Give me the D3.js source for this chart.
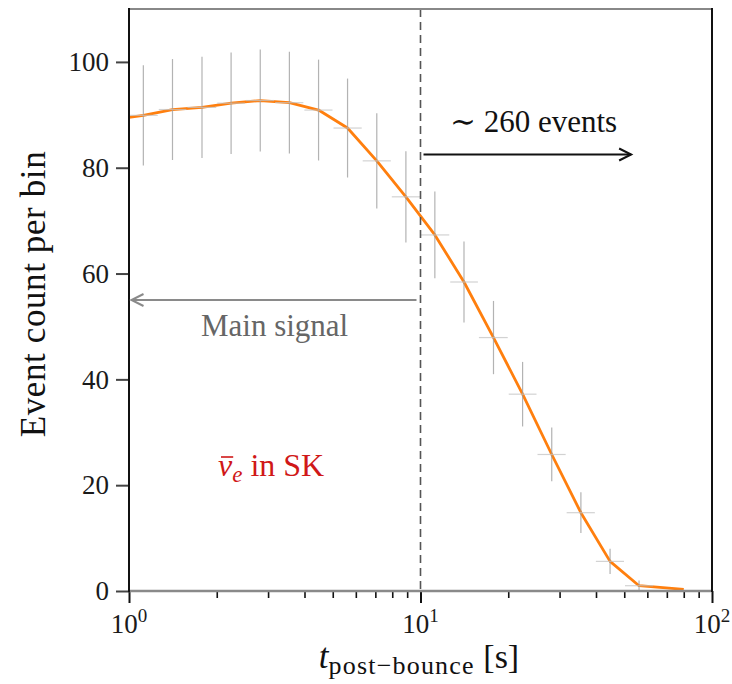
<!DOCTYPE html>
<html><head><meta charset="utf-8">
<script src="https://cdn.jsdelivr.net/npm/d3@7"></script>
<style>body{margin:0;background:#fff}svg{display:block}</style>
</head><body><svg id="c" width="732" height="684"></svg>
<script>
// ---- data ----
const binCenters = [1.12, 1.41, 1.78, 2.24, 2.82, 3.55, 4.47, 5.62, 7.08, 8.91, 11.2, 14.1, 17.8, 22.4, 28.2, 35.5, 44.7, 56.2];
const binLo      = [1.00, 1.26, 1.58, 2.00, 2.51, 3.16, 3.98, 5.01, 6.31, 7.94, 10.0, 12.6, 15.8, 20.0, 25.1, 31.6, 39.8, 50.1];
const binHi      = [1.26, 1.58, 2.00, 2.51, 3.16, 3.98, 5.01, 6.31, 7.94, 10.0, 12.6, 15.8, 20.0, 25.1, 31.6, 39.8, 50.1, 63.1];
const counts     = [89.9, 91.0, 91.4, 92.2, 92.7, 92.3, 90.9, 87.5, 81.3, 74.5, 67.3, 58.4, 47.9, 37.2, 25.8, 14.8, 5.6, 1.0];
const errors     = [9.48, 9.54, 9.56, 9.60, 9.63, 9.61, 9.53, 9.35, 9.02, 8.63, 8.20, 7.64, 6.92, 6.10, 5.08, 3.85, 2.37, 1.0];
const lineTimes  = [1.0, 1.12, 1.41, 1.78, 2.24, 2.82, 3.55, 4.47, 5.62, 7.08, 8.91, 11.2, 14.1, 17.8, 22.4, 28.2, 35.5, 44.7, 56.2, 80.0];
const lineCounts = [89.5, 89.9, 91.0, 91.4, 92.2, 92.7, 92.3, 90.9, 87.5, 81.3, 74.5, 67.3, 58.4, 47.9, 37.2, 25.8, 14.8, 5.6, 1.0, 0.3];
const yTicks = [0, 20, 40, 60, 80, 100];
const xMajor = [1, 10, 100];
const xMajorExp = ["0", "1", "2"];
const xMinor = [2, 3, 4, 5, 6, 7, 8, 9, 20, 30, 40, 50, 60, 70, 80, 90];
const cutTime = 10;
const eventsLabel = "\u223C 260 events";
const mainLabel = "Main signal";

// ---- chart ----
const svg = d3.select("#c");
const F = '"Liberation Serif","DejaVu Serif",serif';
const x = d3.scaleLog().domain([1, 100]).range([129, 712]);
const y = d3.scaleLinear().domain([0, 110]).range([591, 9]);

// orange line
svg.append("path")
  .datum(d3.zip(lineTimes, lineCounts))
  .attr("d", d3.line().x(d => x(d[0])).y(d => y(d[1])))
  .attr("fill", "none").attr("stroke", "#ff7f0e").attr("stroke-width", 2.8)
  .attr("stroke-linejoin", "round");

// error bars
const eb = svg.append("g").attr("stroke", "#9a9a9a").attr("stroke-width", 1.2).attr("opacity", 0.75);
eb.selectAll("line.v").data(counts).join("line").attr("class", "v")
  .attr("x1", (d, i) => x(binCenters[i])).attr("x2", (d, i) => x(binCenters[i]))
  .attr("y1", (d, i) => y(d - errors[i])).attr("y2", (d, i) => y(d + errors[i]));
eb.selectAll("line.h").data(counts).join("line").attr("class", "h")
  .attr("stroke", "#c4c4c4")
  .attr("x1", (d, i) => x(binLo[i]) + 0.5).attr("x2", (d, i) => x(binHi[i]) - 0.5)
  .attr("y1", d => y(d)).attr("y2", d => y(d));

// dashed cut line
svg.append("line").attr("x1", x(cutTime)).attr("x2", x(cutTime))
  .attr("y1", y(110)).attr("y2", y(0))
  .attr("stroke", "#555").attr("stroke-width", 1.6).attr("stroke-dasharray", "8,5");

// y axis
const ya = svg.append("g").attr("transform", `translate(${x(1)},0)`)
  .call(d3.axisLeft(y).tickValues(yTicks).tickSize(13).tickPadding(7));
ya.select(".domain").remove();
ya.selectAll(".tick line").attr("stroke", "#444").attr("stroke-width", 2);
ya.selectAll(".tick text").attr("font-family", F).attr("font-size", 27).attr("fill", "#1a1a1a");

// x axis major / minor
const xa = svg.append("g").attr("transform", `translate(0,${y(0)})`)
  .call(d3.axisBottom(x).tickValues(xMajor).tickSize(12).tickFormat(() => ""));
xa.select(".domain").remove();
xa.selectAll(".tick line").attr("stroke", "#111").attr("stroke-width", 2);
const xm = svg.append("g").attr("transform", `translate(0,${y(0)})`)
  .call(d3.axisBottom(x).tickValues(xMinor).tickSize(7).tickFormat(() => ""));
xm.select(".domain").remove();
xm.selectAll(".tick line").attr("stroke", "#111").attr("stroke-width", 1.6);

const xl = svg.append("g").selectAll("text").data(xMajor).join("text")
  .attr("x", d => x(d)).attr("y", 633).attr("text-anchor", "middle")
  .attr("font-family", F).attr("fill", "#1a1a1a");
xl.append("tspan").attr("font-size", 27).text("10");
xl.append("tspan").attr("font-size", 19).attr("dy", -11).text((d, i) => xMajorExp[i]);

// frame
const fr = svg.append("g");
fr.append("line").attr("x1", x(1)).attr("x2", x(100)).attr("y1", y(110)).attr("y2", y(110)).attr("stroke", "#888").attr("stroke-width", 2);
fr.append("line").attr("x1", x(1)).attr("x2", x(100)).attr("y1", y(0)).attr("y2", y(0)).attr("stroke", "#8a8a8a").attr("stroke-width", 2.6);
fr.append("line").attr("x1", x(1)).attr("x2", x(1)).attr("y1", y(110) - 1).attr("y2", y(0) + 1).attr("stroke", "#111").attr("stroke-width", 2);
fr.append("line").attr("x1", x(100)).attr("x2", x(100)).attr("y1", y(110) - 1).attr("y2", y(0) + 1).attr("stroke", "#111").attr("stroke-width", 2);

// axis labels
svg.append("text")
  .attr("transform", `translate(45,${(y(0) + y(110)) / 2 - 6}) rotate(-90)`)
  .attr("text-anchor", "middle").attr("font-family", F).attr("font-size", 35)
  .attr("letter-spacing", 0.6).attr("fill", "#111")
  .text("Event count per bin");

const xt = svg.append("text").attr("x", 419).attr("y", 668).attr("text-anchor", "middle")
  .attr("font-family", F).attr("fill", "#111");
xt.append("tspan").attr("font-size", 35).attr("font-style", "italic").text("t");
xt.append("tspan").attr("font-size", 26).attr("dy", 6).attr("letter-spacing", 1.2).text("post\u2212bounce");
xt.append("tspan").attr("font-size", 34).attr("dy", -6).text(" [s]");

// arrows
function arrow(x1, x2, yy, color) {
  const g = svg.append("g").attr("stroke", color).attr("stroke-width", 2).attr("fill", "none");
  g.append("line").attr("x1", x1).attr("x2", x2).attr("y1", yy).attr("y2", yy);
  const s = x2 > x1 ? -1 : 1;
  g.append("path").attr("d", `M${x2 + s * 12},${yy - 6}L${x2},${yy}L${x2 + s * 12},${yy + 6}`)
    .attr("stroke-linejoin", "miter");
}
arrow(x(cutTime) + 3, x(52.8), y(82.5), "#111");
arrow(x(cutTime) - 4, x(1.02), y(55.0), "#8a8a8a");

svg.append("text").attr("x", 450).attr("y", 132).attr("font-family", F).attr("font-size", 31)
  .attr("fill", "#111").text(eventsLabel);
svg.append("text").attr("x", 201).attr("y", 336).attr("font-family", F).attr("font-size", 31)
  .attr("fill", "#666").text(mainLabel);

// anti-neutrino label: italic nu with a drawn bar, subscript e, then " in SK"
const red = "#d01818";
const nu = svg.append("text").attr("x", 218).attr("y", 476).attr("font-family", F).attr("font-size", 32)
  .attr("fill", red);
nu.append("tspan").attr("font-style", "italic").text("\u03BD");
nu.append("tspan").attr("font-style", "italic").attr("font-size", 23).attr("dy", 6).text("e");
nu.append("tspan").attr("dy", -6).text(" in SK");
const ext = nu.node().getExtentOfChar(0);
svg.append("line").attr("x1", ext.x + 3).attr("x2", ext.x + ext.width + 1)
  .attr("y1", 457).attr("y2", 457).attr("stroke", red).attr("stroke-width", 1.6);
</script></body></html>
